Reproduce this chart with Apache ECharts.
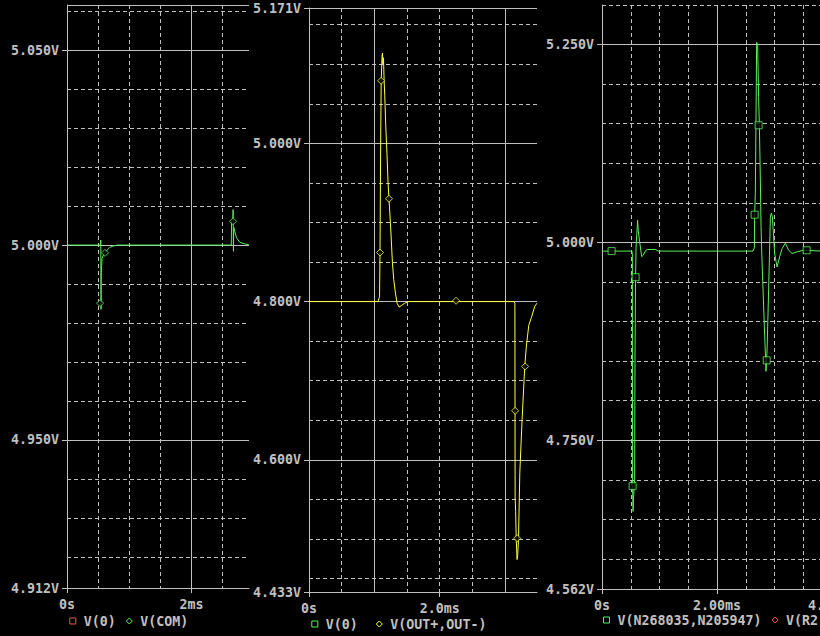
<!DOCTYPE html>
<html><head><meta charset="utf-8">
<script src="https://cdn.jsdelivr.net/npm/echarts@6/dist/echarts.min.js"></script>
<style>html,body{margin:0;padding:0;background:#000;}#c{width:820px;height:636px;}</style>
</head><body><div id="c"></div>
<script>
// ===== Panel 1 : V(COM) =====
const p1Time = [0, 0.540, 0.543, 0.547, 0.549, 0.552, 0.563, 0.580, 0.611, 0.650, 0.686, 0.750, 0.815,
                2.640, 2.645, 2.665, 2.670, 2.675, 2.680, 2.697, 2.724, 2.777, 2.857, 2.925];
const p1VCOM = [5.0000, 5.0000, 5.0013, 4.9835, 4.9900, 4.9930, 4.9965, 4.9972, 4.9980, 4.9988, 4.9994, 4.9998, 5.0000,
                5.0000, 5.0060, 5.0065, 5.0091, 4.9984, 5.0045, 5.0035, 5.0019, 5.0007, 5.0003, 5.0000];
const p1MarkTime = [0.531, 0.611, 2.669];
const p1MarkV = [4.9851, 4.9980, 5.0061];
const p1V0Time = [0, 2.925];
const p1V0 = [0, 0];
const p1YLabelVals = [5.05, 5.00, 4.95, 4.912];
const p1YLabels = ['5.050V', '5.000V', '4.950V', '4.912V'];
const p1YSolid = [5.0616, 5.05, 5.00, 4.95];
const p1YDashed = [5.06, 5.04, 5.03, 5.02, 5.01, 4.99, 4.98, 4.97, 4.96, 4.94, 4.93, 4.92];
const p1XLabelVals = [0, 2];
const p1XLabels = ['0s', '2ms'];
const p1XSolid = [2];
const p1XDashed = [0.5, 1, 1.5, 2.5];

// ===== Panel 2 : V(OUT+,OUT-) =====
const p2Time = [0, 1.055, 1.080, 1.087, 1.097, 1.105, 1.118, 1.124, 1.132, 1.140, 1.150, 1.160, 1.175, 1.194, 1.210,
                1.225, 1.246, 1.262, 1.277, 1.297, 1.323, 1.348, 1.378, 1.415, 1.466, 1.516,
                3.135, 3.152, 3.155, 3.163, 3.172, 3.185, 3.195, 3.207, 3.227, 3.262, 3.303, 3.329, 3.364, 3.405, 3.456, 3.490];
const p2VOUT = [4.800, 4.800, 4.806, 4.862, 5.000, 5.079, 5.110, 5.114, 5.100, 5.108, 5.079, 5.060, 5.022, 4.986, 4.950,
                4.929, 4.900, 4.874, 4.849, 4.828, 4.811, 4.798, 4.793, 4.795, 4.798, 4.800,
                4.800, 4.798, 4.553, 4.535, 4.500, 4.474, 4.480, 4.500, 4.584, 4.651, 4.719, 4.745, 4.770, 4.780, 4.794, 4.798];
const p2MarkTime = [1.087, 1.103, 1.225, 2.251, 3.155, 3.186, 3.308];
const p2MarkV = [4.862, 5.079, 4.930, 4.801, 4.662, 4.501, 4.718];
const p2V0Time = [0, 3.49];
const p2V0 = [0, 0];
const p2YLabelVals = [5.171, 5.000, 4.800, 4.600, 4.433];
const p2YLabels = ['5.171V', '5.000V', '4.800V', '4.600V', '4.433V'];
const p2YSolid = [5.171, 5.000, 4.800, 4.600];
const p2YDashed = [5.15, 5.10, 5.05, 4.95, 4.90, 4.85, 4.75, 4.70, 4.65, 4.55, 4.50, 4.45];
const p2XLabelVals = [0, 2];
const p2XLabels = ['0s', '2.0ms'];
const p2XSolid = [1, 3];
const p2XDashed = [0.5, 1.5, 2, 2.5];

// ===== Panel 3 : V(N268035,N205947) =====
const p3Time = [0, 0.520, 0.528, 0.532, 0.540, 0.550, 0.567, 0.575, 0.584, 0.592, 0.605, 0.619, 0.630, 0.654, 0.690,
                0.720, 0.760, 0.790, 0.930, 0.984,
                2.626, 2.649, 2.654, 2.666, 2.689, 2.706, 2.723, 2.736, 2.753, 2.765, 2.783, 2.800, 2.823, 2.852,
                2.870, 2.897, 2.927, 2.944, 2.962, 2.984, 3.002, 3.043, 3.089, 3.130, 3.188, 3.245, 3.304, 3.391, 3.496, 3.850];
const p3VN = [4.989, 4.989, 4.985, 4.692, 4.660, 4.680, 4.700, 4.870, 4.956, 4.994, 5.010, 5.028, 5.015, 5.001, 4.982,
              4.984, 4.990, 4.991, 4.991, 4.989,
              4.989, 4.993, 5.035, 5.062, 5.253, 5.249, 5.184, 5.148, 5.079, 5.020, 4.974, 4.940, 4.893, 4.837,
              4.864, 4.940, 5.032, 5.037, 5.032, 5.007, 4.986, 4.969, 4.982, 4.992, 4.999, 4.990, 4.986, 4.988, 4.990, 4.989];
const p3MarkTime = [0.167, 0.532, 0.584, 2.654, 2.723, 2.863, 3.558];
const p3MarkV = [4.989, 4.692, 4.956, 5.035, 5.148, 4.851, 4.990];
const p3YLabelVals = [5.25, 5.00, 4.75, 4.562];
const p3YLabels = ['5.250V', '5.000V', '4.750V', '4.562V'];
const p3YSolid = [5.25, 5.00, 4.75];
const p3YDashed = [5.30, 5.20, 5.15, 5.10, 5.05, 4.95, 4.90, 4.85, 4.80, 4.70, 4.65, 4.60];
const p3XLabelVals = [0, 2, 4];
const p3XLabels = ['0s', '2.00ms', '4.00ms'];
const p3XSolid = [2, 4];
const p3XDashed = [0.5, 1, 1.5, 2.5, 3, 3.5];

// ===== styling =====
const GRIDC = '#c0c0c0';
const GREEN = '#5af05a';
const YELLOW = '#ffff3c';
const RED = '#f05050';
const FONT = { color: '#c0c0c0', fontFamily: 'DejaVu Sans Mono', fontSize: 13.3, fontWeight: 'bold' };
const DASH = [4, 3];

const panels = [
  { grid: { left: 67, top: 5, width: 182, height: 583 }, xmin: 0, xmax: 2.925, ymin: 4.912, ymax: 5.0616,
    xl: p1XLabelVals, xt: p1XLabels, xs: p1XSolid, xd: p1XDashed, yl: p1YLabelVals, yt: p1YLabels, ys: p1YSolid, yd: p1YDashed },
  { grid: { left: 309, top: 8, width: 228, height: 584 }, xmin: 0, xmax: 3.49, ymin: 4.433, ymax: 5.171,
    xl: p2XLabelVals, xt: p2XLabels, xs: p2XSolid, xd: p2XDashed, yl: p2YLabelVals, yt: p2YLabels, ys: p2YSolid, yd: p2YDashed },
  { grid: { left: 602, top: 5, width: 241, height: 584 }, xmin: 0, xmax: 4.19, ymin: 4.562, ymax: 5.300,
    xl: p3XLabelVals, xt: p3XLabels, xs: p3XSolid, xd: p3XDashed, yl: p3YLabelVals, yt: p3YLabels, ys: p3YSolid, yd: p3YDashed }
];

function fmt(vals, texts) {
  return function (v) {
    for (let i = 0; i < vals.length; i++) if (Math.abs(vals[i] - v) < 1e-6) return texts[i];
    return '';
  };
}
function axisSet(dim, gi, min, max, lv, lt, sv, dv) {
  const pos = dim === 'x' ? 'bottom' : 'left';
  const base = { type: 'value', gridIndex: gi, min: min, max: max, position: pos, scale: true };
  const labelAxis = Object.assign({}, base, {
    axisLine: { show: true, onZero: false, lineStyle: { color: GRIDC, width: 1 } },
    axisTick: { show: true, inside: false, length: 5, customValues: lv, lineStyle: { color: GRIDC, width: 1 } },
    axisLabel: Object.assign({ show: true, customValues: lv, margin: dim === 'x' ? 10 : 8, formatter: fmt(lv, lt) }, FONT),
    splitLine: { show: false }
  });
  const solidAxis = Object.assign({}, base, {
    axisLine: { show: false }, axisLabel: { show: false },
    axisTick: { show: false, customValues: sv },
    splitLine: { show: true, lineStyle: { color: GRIDC, width: 1, type: 'solid' } }
  });
  const dashAxis = Object.assign({}, base, {
    axisLine: { show: false }, axisLabel: { show: false },
    axisTick: { show: false, customValues: dv },
    splitLine: { show: true, lineStyle: { color: GRIDC, width: 1, type: DASH } }
  });
  return [labelAxis, solidAxis, dashAxis];
}

const grids = [], xAxes = [], yAxes = [];
panels.forEach(function (p, i) {
  grids.push(Object.assign({ show: false, containLabel: false, outerBoundsMode: 'none' }, p.grid));
  axisSet('x', i, p.xmin, p.xmax, p.xl, p.xt, p.xs, p.xd).forEach(a => xAxes.push(a));
  axisSet('y', i, p.ymin, p.ymax, p.yl, p.yt, p.ys, p.yd).forEach(a => yAxes.push(a));
});

function zip(t, v) { return t.map((x, i) => [x, v[i]]); }
function lineSeries(name, pi, t, v, color) {
  return { type: 'line', name: name, xAxisIndex: pi * 3, yAxisIndex: pi * 3, data: zip(t, v),
    symbol: 'none', showSymbol: false, clip: true, silent: true, animation: false,
    lineStyle: { color: color, width: 1 }, itemStyle: { color: color }, emphasis: { disabled: true } };
}
function markSeries(name, pi, t, v, color, sym) {
  return { type: 'scatter', name: name, xAxisIndex: pi * 3, yAxisIndex: pi * 3, data: zip(t, v),
    symbol: sym, symbolSize: 7, clip: true, silent: true, animation: false, z: 3,
    itemStyle: { color: '#000', borderColor: color, borderWidth: 1 }, emphasis: { disabled: true } };
}

const series = [
  lineSeries('V(0)', 0, p1V0Time, p1V0, RED),
  lineSeries('V(COM)', 0, p1Time, p1VCOM, GREEN),
  markSeries('V(COM)', 0, p1MarkTime, p1MarkV, GREEN, 'diamond'),
  lineSeries('V(0) ', 1, p2V0Time, p2V0, GREEN),
  lineSeries('V(OUT+,OUT-)', 1, p2Time, p2VOUT, YELLOW),
  markSeries('V(OUT+,OUT-)', 1, p2MarkTime, p2MarkV, YELLOW, 'diamond'),
  lineSeries('V(N268035,N205947)', 2, p3Time, p3VN, GREEN),
  markSeries('V(N268035,N205947)', 2, p3MarkTime, p3MarkV, GREEN, 'rect'),
  lineSeries('V(R2', 2, [], [], RED)
];

function legendItem(name, icon, color) {
  return { name: name, icon: icon, itemStyle: { color: '#000', borderColor: color, borderWidth: 1 } };
}
const legendText = Object.assign({ padding: [0, 0, 0, 3], lineHeight: 16 }, FONT);
const legendBase = { orient: 'horizontal', padding: 0, itemWidth: 6, itemHeight: 6, itemGap: 10,
  selectedMode: false, textStyle: legendText, inactiveColor: '#c0c0c0' };
const legends = [
  Object.assign({}, legendBase, { left: 69.3, top: 613,
    data: [legendItem('V(0)', 'rect', RED), legendItem('V(COM)', 'diamond', GREEN)] }),
  Object.assign({}, legendBase, { left: 311.3, top: 616,
    data: [legendItem('V(0) ', 'rect', GREEN), legendItem('V(OUT+,OUT-)', 'diamond', YELLOW)] }),
  Object.assign({}, legendBase, { left: 603, top: 612,
    data: [legendItem('V(N268035,N205947)', 'rect', GREEN), legendItem('V(R2', 'diamond', RED)] })
];

const chart = echarts.init(document.getElementById('c'), null, { renderer: 'svg', width: 820, height: 636 });
chart.setOption({
  backgroundColor: '#000',
  animation: false,
  grid: grids,
  xAxis: xAxes,
  yAxis: yAxes,
  legend: legends,
  series: series
});
</script>
</body></html>
